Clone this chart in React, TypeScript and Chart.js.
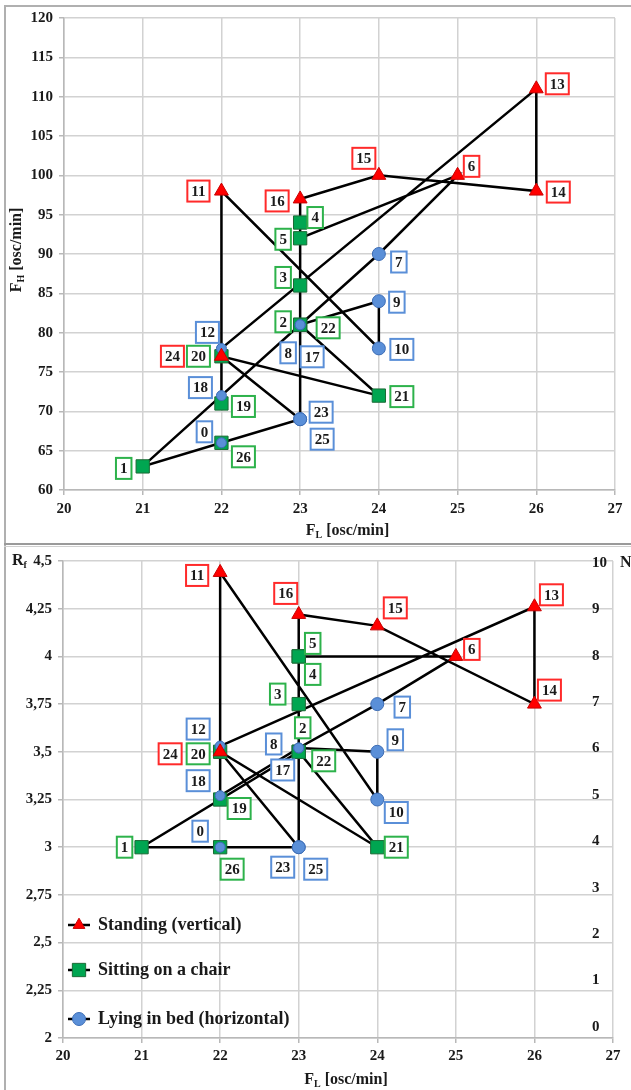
import React, { useEffect, useRef } from "react";
import { Chart, registerables } from "chart.js";

Chart.register(...registerables);

// ---------------- DATA ----------------
const sampleIds = [0, 1, 2, 3, 4, 5, 6, 7, 8, 9, 10, 11, 12, 13, 14, 15, 16, 17, 18, 19, 20, 21, 22, 23, 24, 25, 26];
const postures = [
  "lying", "sitting", "sitting", "sitting", "sitting", "sitting", "standing", "lying", "lying", "lying",
  "lying", "standing", "lying", "standing", "standing", "standing", "standing", "lying", "lying", "sitting",
  "sitting", "sitting", "sitting", "lying", "standing", "lying", "sitting",
];
const fL = [22, 21, 23, 23, 23, 23, 25, 24, 23, 24, 24, 22, 22, 26, 26, 24, 23, 23, 22, 22, 22, 24, 23, 23, 22, 23, 22];
const fH = [66, 63, 81, 86, 94, 92, 100, 90, 81, 84, 78, 98, 78, 111, 98, 100, 97, 81, 72, 71, 77, 72, 81, 69, 77, 69, 66];
const rF = [3, 3, 3.5, 3.75, 4, 4, 4, 3.75, 3.52, 3.5, 3.25, 4.44, 3.53, 4.26, 3.75, 4.16, 4.22, 3.52, 3.27, 3.25, 3.5, 3, 3.5, 3, 3.5, 3, 3];

const fLTicks = [20, 21, 22, 23, 24, 25, 26, 27];
const fHTicks = [60, 65, 70, 75, 80, 85, 90, 95, 100, 105, 110, 115, 120];
const rFTicks = [2, 2.25, 2.5, 2.75, 3, 3.25, 3.5, 3.75, 4, 4.25, 4.5];
const nTicks = [0, 1, 2, 3, 4, 5, 6, 7, 8, 9, 10];

const postureOrder = ["standing", "sitting", "lying"];
const postureNames: Record<string, string> = {
  standing: "Standing (vertical)",
  sitting: "Sitting on a chair",
  lying: "Lying in bed (horizontal)",
};

// ---------------- STYLE ----------------
const FONT = '"Liberation Serif", "Times New Roman", serif';
const GRID = "#d2d2d2";
const AXIS = "#b8b8b8";
const TEXT = "#1a1a1a";

const markerStyle: Record<string, any> = {
  standing: { pointStyle: "triangle", radius: 8, fill: "#ff0000", border: "#c80000", box: "#ff2a2a" },
  sitting: { pointStyle: "rect", radius: 9.4, fill: "#00a651", border: "#1b6b36", box: "#2db24b" },
  lying: { pointStyle: "circle", radius: 6.5, fill: "#5a8fd8", border: "#3d6db5", box: "#5a8fd8" },
};
const smallLying = [0, 8, 12, 17, 18];

// label box offsets (dx, dy) from each point, px
const topLabelOffsets = [
  [-17, -11], [-19, 2], [-17, -3], [-17, -8], [15, -5], [-17, 1], [14, -9], [20, 8], [-12, 28], [18, 1],
  [23, 1], [-23, 0], [-14, -16], [21, -5], [22, 1], [-15, -17], [-23, 2], [12, 32], [-21, -8], [22, 3],
  [-23, 0], [23, 1], [28, 3], [21, -7], [-49, 0], [22, 20], [22, 14],
];
const bottomLabelOffsets = [
  [-20, -16], [-17, 0], [4, -24], [-21, -10], [14, 18], [14, -13], [16, -7], [25, 3], [-25, -4], [18, -12],
  [19, 13], [-23, 3], [-22, -17], [17, -12], [15, -14], [18, -18], [-13, -21], [-16, 22], [-22, -15], [19, 9],
  [-22, 2], [19, 0], [25, 9], [-16, 20], [-50, 2], [17, 22], [12, 22],
];

type Part = { t: string; sub?: boolean };

function drawRich(ctx: CanvasRenderingContext2D, parts: Part[], x: number, y: number, size: number, align: "center" | "left") {
  const subSize = Math.round(size * 0.62);
  let total = 0;
  const widths = parts.map((p) => {
    ctx.font = `bold ${p.sub ? subSize : size}px ${FONT}`;
    const w = ctx.measureText(p.t).width;
    total += w;
    return w;
  });
  let cx = align === "center" ? x - total / 2 : x;
  ctx.textAlign = "left";
  ctx.textBaseline = "middle";
  ctx.fillStyle = TEXT;
  parts.forEach((p, i) => {
    ctx.font = `bold ${p.sub ? subSize : size}px ${FONT}`;
    ctx.fillText(p.t, cx, p.sub ? y + size * 0.28 : y);
    cx += widths[i];
  });
}

function drawMarker(ctx: CanvasRenderingContext2D, posture: string, x: number, y: number) {
  const st = markerStyle[posture];
  ctx.fillStyle = st.fill;
  ctx.strokeStyle = st.border;
  ctx.lineWidth = 1;
  ctx.beginPath();
  if (posture === "standing") {
    const r = st.radius * 0.85;
    ctx.moveTo(x, y - r);
    ctx.lineTo(x + r * 0.866, y + r * 0.5);
    ctx.lineTo(x - r * 0.866, y + r * 0.5);
    ctx.closePath();
  } else if (posture === "sitting") {
    const s = st.radius * Math.SQRT1_2;
    ctx.rect(x - s, y - s, 2 * s, 2 * s);
  } else {
    ctx.arc(x, y, st.radius, 0, Math.PI * 2);
  }
  ctx.fill();
  ctx.stroke();
}

function buildConfig(variant: "top" | "bottom") {
  const isTop = variant === "top";
  const yv = isTop ? fH : rF;
  const offsets = isTop ? topLabelOffsets : bottomLabelOffsets;
  const pts = (p: string) =>
    sampleIds.filter((i) => postures[i] === p).map((i) => ({ x: fL[i], y: yv[i], id: i }));

  const mk = (p: string, extra: any = {}) => {
    const st = markerStyle[p];
    return {
      label: postureNames[p],
      data: pts(p),
      showLine: false,
      pointStyle: st.pointStyle,
      pointRadius: st.radius,
      pointHoverRadius: st.radius,
      pointBackgroundColor: st.fill,
      pointBorderColor: st.border,
      pointBorderWidth: 1,
      backgroundColor: st.fill,
      borderColor: st.border,
      ...extra,
    };
  };
  const lyingPts = pts("lying");
  const datasets: any[] = [
    mk("standing"),
    mk("lying", { pointRadius: lyingPts.map((p) => (smallLying.includes(p.id) ? 5 : 6.5)) }),
    mk("sitting"),
    {
      label: "path",
      data: sampleIds.map((i) => ({ x: fL[i], y: yv[i] })),
      showLine: true,
      borderColor: "#000",
      borderWidth: 2.5,
      pointRadius: 0,
      pointHoverRadius: 0,
      tension: 0,
      fill: false,
    },
  ];

  const tickFont = { family: FONT, weight: "bold" as const, size: 15 };

  const scales: any = {
    x: {
      type: "linear",
      min: 20,
      max: 27,
      afterBuildTicks: (s: any) => {
        s.ticks = fLTicks.map((v) => ({ value: v }));
      },
      grid: { color: GRID, lineWidth: 1.5, tickLength: 5, tickColor: AXIS },
      border: { color: AXIS, width: 1.5 },
      ticks: { font: tickFont, color: TEXT, padding: isTop ? 5 : 4, maxRotation: 0 },
      afterFit: (s: any) => {
        s.height = isTop ? 54 : 52;
      },
    },
    y: {
      type: "linear",
      position: "left",
      min: isTop ? 60 : 2,
      max: isTop ? 120 : 4.5,
      afterBuildTicks: (s: any) => {
        s.ticks = (isTop ? fHTicks : rFTicks).map((v) => ({ value: v }));
      },
      grid: { color: GRID, lineWidth: 1.5, tickLength: 5, tickColor: AXIS },
      border: { color: AXIS, width: 1.5 },
      ticks: {
        font: tickFont,
        color: TEXT,
        padding: 6,
        callback: (v: any) => String(v).replace(".", ","),
      },
      afterFit: (s: any) => {
        s.width = isTop ? 64 : 63;
      },
    },
  };
  if (!isTop) {
    scales.yN = {
      type: "linear",
      position: "right",
      min: -0.24,
      max: 10.04,
      grid: { display: false },
      border: { display: false },
      ticks: { display: false },
      afterFit: (s: any) => {
        s.width = 0;
      },
    };
  }

  const annotate = {
    id: "annotate" + variant,
    afterDatasetsDraw(chart: any) {
      const ctx: CanvasRenderingContext2D = chart.ctx;
      const xs = chart.scales.x;
      const ys = chart.scales.y;
      const area = chart.chartArea;
      ctx.save();
      // point labels
      ctx.font = `bold 15px ${FONT}`;
      sampleIds.forEach((i) => {
        const px = xs.getPixelForValue(fL[i]) + offsets[i][0];
        const py = ys.getPixelForValue(yv[i]) + offsets[i][1];
        const txt = String(i);
        const w = ctx.measureText(txt).width + 8;
        const h = 21;
        ctx.fillStyle = "#fff";
        ctx.fillRect(px - w / 2, py - h / 2, w, h);
        ctx.strokeStyle = markerStyle[postures[i]].box;
        ctx.lineWidth = 2;
        ctx.strokeRect(px - w / 2, py - h / 2, w, h);
        ctx.fillStyle = TEXT;
        ctx.textAlign = "center";
        ctx.textBaseline = "middle";
        ctx.fillText(txt, px, py + 1);
      });

      // axis titles
      const xTitleX = (area.left + area.right) / 2 + 8;
      if (isTop) {
        drawRich(ctx, [{ t: "F" }, { t: "L", sub: true }, { t: " [osc/min]" }], xTitleX, 531, 16, "center");
        ctx.save();
        ctx.translate(17, (area.top + area.bottom) / 2 - 4);
        ctx.rotate(-Math.PI / 2);
        drawRich(ctx, [{ t: "F" }, { t: "H", sub: true }, { t: " [osc/min]" }], 0, 0, 16, "center");
        ctx.restore();
      } else {
        drawRich(ctx, [{ t: "F" }, { t: "L", sub: true }, { t: " [osc/min]" }], xTitleX, 534, 16, "center");
        drawRich(ctx, [{ t: "R" }, { t: "f", sub: true }], 12, area.top, 16, "left");
        // right N axis labels (inside plot)
        const yn = chart.scales.yN;
        ctx.font = `bold 15px ${FONT}`;
        ctx.fillStyle = TEXT;
        ctx.textAlign = "left";
        ctx.textBaseline = "middle";
        nTicks.forEach((v) => {
          ctx.fillText(String(v), area.right - 21, yn.getPixelForValue(v));
        });
        ctx.font = `bold 16px ${FONT}`;
        ctx.fillText("N", area.right + 7, yn.getPixelForValue(10));

        // legend
        const rows = [area.bottom - 113, area.bottom - 68, area.bottom - 19];
        postureOrder.forEach((p, k) => {
          const y = rows[k];
          ctx.strokeStyle = "#000";
          ctx.lineWidth = 2.5;
          ctx.beginPath();
          ctx.moveTo(area.left + 5, y);
          ctx.lineTo(area.left + 27, y);
          ctx.stroke();
          drawMarker(ctx, p, area.left + 16, y);
          ctx.font = `bold 18px ${FONT}`;
          ctx.fillStyle = TEXT;
          ctx.textAlign = "left";
          ctx.textBaseline = "middle";
          ctx.fillText(postureNames[p], area.left + 35, y);
        });
      }
      ctx.restore();
    },
  };

  return {
    type: "scatter" as const,
    data: { datasets },
    options: {
      responsive: false,
      animation: false as const,
      devicePixelRatio: 1,
      events: [] as any[],
      layout: {
        padding: isTop ? { left: 0, top: 18, right: 16, bottom: 0 } : { left: 0, top: 12, right: 18, bottom: 0 },
      },
      plugins: { legend: { display: false }, tooltip: { enabled: false } },
      scales,
    },
    plugins: [annotate],
  };
}

function Panel({ variant, top }: { variant: "top" | "bottom"; top: number }) {
  const ref = useRef<HTMLCanvasElement>(null);
  useEffect(() => {
    if (!ref.current) return;
    const chart = new Chart(ref.current, buildConfig(variant) as any);
    return () => chart.destroy();
  }, [variant]);
  return (
    <canvas
      ref={ref}
      width={631}
      height={544}
      style={{ position: "absolute", left: 0, top, width: 631, height: 544, display: "block" }}
    />
  );
}

export default function App() {
  return (
    <div style={{ position: "absolute", left: 0, top: 0, width: 631, height: 1090, background: "#fff", overflow: "hidden" }}>
      <Panel variant="top" top={0} />
      <Panel variant="bottom" top={546} />
      <div style={{ position: "absolute", left: 4, top: 5, width: 627, height: 1.5, background: "#b0b0b0" }} />
      <div style={{ position: "absolute", left: 4, top: 5, width: 1.5, height: 1085, background: "#b0b0b0" }} />
      <div style={{ position: "absolute", left: 4, top: 543, width: 627, height: 2, background: "#9a9a9a" }} />
      <div style={{ position: "absolute", left: 4, top: 546, width: 627, height: 1, background: "#d0d0d0" }} />
    </div>
  );
}
